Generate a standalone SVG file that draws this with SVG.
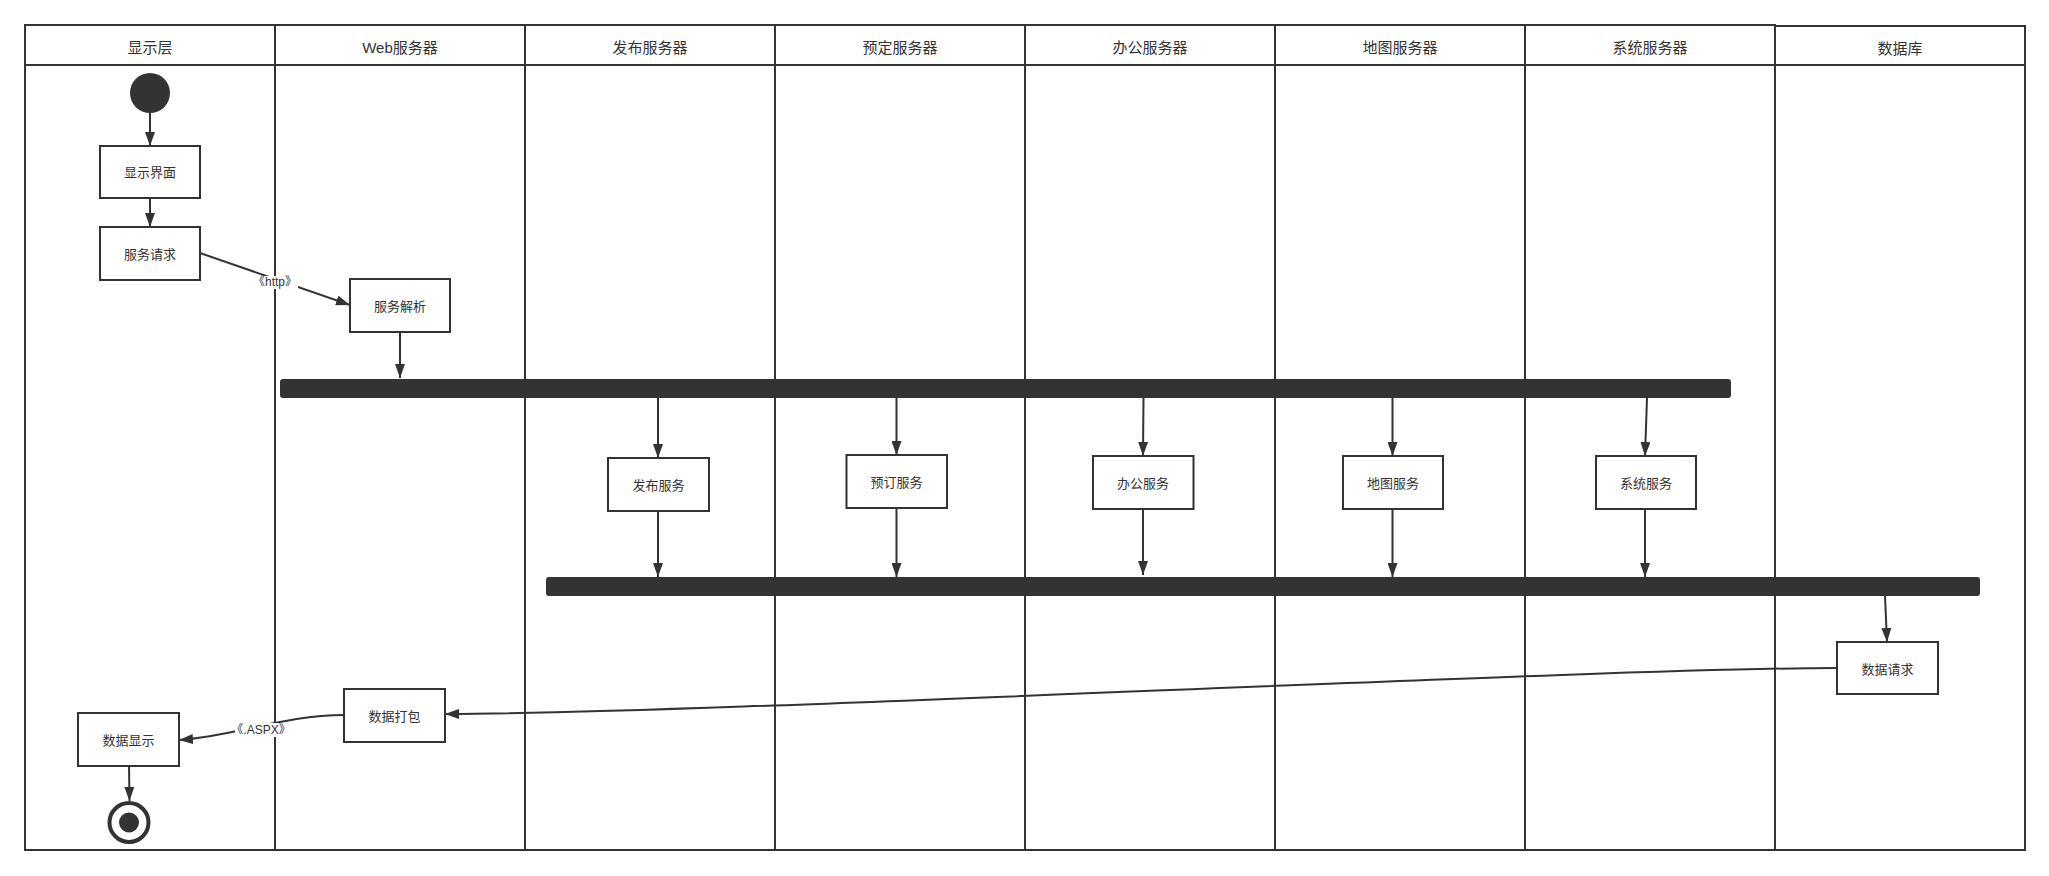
<svg xmlns="http://www.w3.org/2000/svg" width="2049" height="876" viewBox="0 0 2049 876">
<style>
.lane{fill:#fff;stroke:#333;stroke-width:2}
.hdr{font-family:"Liberation Sans","Noto Sans CJK SC",sans-serif;font-size:15px;fill:#333;text-anchor:middle;dominant-baseline:central}
.box{fill:#fff;stroke:#333;stroke-width:2}
.txt{font-family:"Liberation Sans","Noto Sans CJK SC",sans-serif;font-size:13px;fill:#333;text-anchor:middle;dominant-baseline:central}
.lbl{font-family:"Liberation Sans","Noto Sans CJK SC",sans-serif;font-size:12px;fill:#333;text-anchor:middle;dominant-baseline:central}
.bar{fill:#333}
.c{fill:none;stroke:#333;stroke-width:2;marker-end:url(#ah)}
</style>
<defs>
<marker id="ah" markerUnits="userSpaceOnUse" markerWidth="14" markerHeight="10" refX="14" refY="5" orient="auto">
<path d="M0,0 L14,5 L0,10 z" fill="#333"/>
</marker>
</defs>
<rect width="2049" height="876" fill="#fff"/>
<g id="lanes">
<g id="lane-display"><rect class="lane" x="25" y="25" width="250" height="825"/><line x1="25" y1="65" x2="275" y2="65" stroke="#333" stroke-width="2"/><text class="hdr" x="150" y="47">显示层</text></g>
<g id="lane-web"><rect class="lane" x="275" y="25" width="250" height="825"/><line x1="275" y1="65" x2="525" y2="65" stroke="#333" stroke-width="2"/><text class="hdr" x="400" y="47">Web服务器</text></g>
<g id="lane-publish"><rect class="lane" x="525" y="25" width="250" height="825"/><line x1="525" y1="65" x2="775" y2="65" stroke="#333" stroke-width="2"/><text class="hdr" x="650" y="47">发布服务器</text></g>
<g id="lane-booking"><rect class="lane" x="775" y="25" width="250" height="825"/><line x1="775" y1="65" x2="1025" y2="65" stroke="#333" stroke-width="2"/><text class="hdr" x="900" y="47">预定服务器</text></g>
<g id="lane-office"><rect class="lane" x="1025" y="25" width="250" height="825"/><line x1="1025" y1="65" x2="1275" y2="65" stroke="#333" stroke-width="2"/><text class="hdr" x="1150" y="47">办公服务器</text></g>
<g id="lane-map"><rect class="lane" x="1275" y="25" width="250" height="825"/><line x1="1275" y1="65" x2="1525" y2="65" stroke="#333" stroke-width="2"/><text class="hdr" x="1400" y="47">地图服务器</text></g>
<g id="lane-system"><rect class="lane" x="1525" y="25" width="250" height="825"/><line x1="1525" y1="65" x2="1775" y2="65" stroke="#333" stroke-width="2"/><text class="hdr" x="1650" y="47">系统服务器</text></g>
<g id="lane-db"><rect class="lane" x="1775" y="26" width="250" height="824"/><line x1="1775" y1="65" x2="2025" y2="65" stroke="#333" stroke-width="2"/><text class="hdr" x="1900" y="48">数据库</text></g>
</g>
<g id="connectors">
<path class="c" d="M150,113 L150,146"/>
<path class="c" d="M150,198 L150,227"/>
<path class="c" d="M200,253 L350,305"/>
<path class="c" d="M400,332 L400,378"/>
<path class="c" d="M658,398 L658,458"/>
<path class="c" d="M896.5,398 L896.5,455"/>
<path class="c" d="M1143.5,398 L1143,456"/>
<path class="c" d="M1392.5,398 L1392.5,456"/>
<path class="c" d="M1647,398 L1645,456"/>
<path class="c" d="M658,511 L658,577"/>
<path class="c" d="M896.5,508 L896.5,577"/>
<path class="c" d="M1143,509 L1143,575"/>
<path class="c" d="M1392.5,509 L1392.5,577"/>
<path class="c" d="M1645,509 L1645,577"/>
<path class="c" d="M1885,596 L1887,642"/>
<path class="c" d="M1837,668 C1600,668 700,714 445,714"/>
<path class="c" d="M344,715 C285,715 235,736 179,740"/>
<path class="c" d="M129,766 L129.5,801"/>
<rect x="252" y="276" width="46" height="13" fill="#fff"/>
<text class="lbl" x="275" y="282">《http》</text>
<rect x="235" y="723" width="52" height="14" fill="#fff"/>
<text class="lbl" x="261" y="730">《.ASPX》</text>
</g>
<g id="start"><circle cx="150" cy="93" r="20" fill="#333"/></g>
<g id="n-show-ui"><rect class="box" x="100" y="146" width="100" height="52"/><text class="txt" x="150" y="172">显示界面</text></g>
<g id="n-request"><rect class="box" x="100" y="227" width="100" height="53"/><text class="txt" x="150" y="254">服务请求</text></g>
<g id="n-parse"><rect class="box" x="350" y="279" width="100" height="53"/><text class="txt" x="400" y="306">服务解析</text></g>
<g id="fork"><rect class="bar" x="280" y="379" width="1451" height="19" rx="3"/></g>
<g id="n-publish"><rect class="box" x="608" y="458" width="101" height="53"/><text class="txt" x="658.5" y="485">发布服务</text></g>
<g id="n-booking"><rect class="box" x="846.5" y="455" width="100.5" height="53"/><text class="txt" x="896.5" y="482">预订服务</text></g>
<g id="n-office"><rect class="box" x="1093" y="456" width="100.5" height="53"/><text class="txt" x="1143" y="483">办公服务</text></g>
<g id="n-map"><rect class="box" x="1343" y="456" width="100" height="53"/><text class="txt" x="1393" y="483">地图服务</text></g>
<g id="n-system"><rect class="box" x="1596" y="456" width="100" height="53"/><text class="txt" x="1646" y="483">系统服务</text></g>
<g id="join"><rect class="bar" x="546" y="577" width="1434" height="19" rx="3"/></g>
<g id="n-data-req"><rect class="box" x="1837" y="642" width="101" height="52"/><text class="txt" x="1887.5" y="669">数据请求</text></g>
<g id="n-pack"><rect class="box" x="344" y="689" width="101" height="53"/><text class="txt" x="394.5" y="716">数据打包</text></g>
<g id="n-data-show"><rect class="box" x="78" y="713" width="101" height="53"/><text class="txt" x="128.5" y="740">数据显示</text></g>
<g id="end"><circle cx="129" cy="822.5" r="19.5" fill="#fff" stroke="#333" stroke-width="4"/><circle cx="129" cy="822.5" r="10" fill="#333"/></g>
</svg>
